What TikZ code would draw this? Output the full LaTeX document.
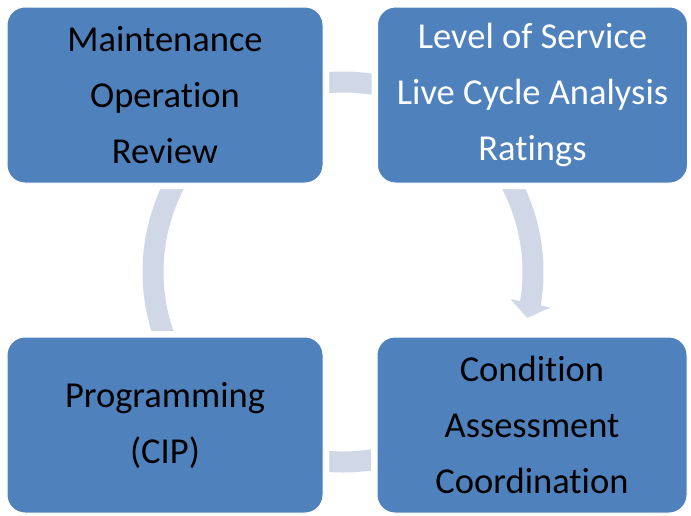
\documentclass[tikz,border=0pt]{standalone}
\usepackage{fontspec}
\setmainfont{Carlito}[Ligatures=NoCommon]
\usetikzlibrary{arrows.meta,bending,backgrounds}

\definecolor{boxblue}{RGB}{79,129,189}
\definecolor{ringgray}{RGB}{208,216,232}

\tikzset{
  stage/.style={rounded corners=18pt, fill=boxblue, draw=white, line width=1pt,
    preaction={draw=white, line width=12pt},
    minimum width=316pt, minimum height=176pt, align=center,
    font=\fontsize{36.5}{56}\selectfont, text=black},
  ring/.style={draw=ringgray, line width=21pt},
}

\begin{document}
\begin{tikzpicture}[x=1pt,y=-1pt]
\useasboundingbox (0,0) rectangle (691,515);
%top row:
\node[stage] (maint) at (165,95) {Maintenance\\Operation\\Review};
\node[stage, minimum width=310pt, text=white] (service) at (532.5,95) {Level of Service\\Live Cycle Analysis\\Ratings};
%bottom row:
\node[stage] (prog) at (165,425) {Programming\\(CIP)};
\node[stage, minimum width=310pt] (cond) at (532,425) {Condition\\Assessment\\Coordination};
%cycle behind the boxes
\coordinate (hub) at (343,272);
\begin{scope}[on background layer]
\draw[ring] ([shift={(255:190)}]hub) arc[start angle=255, end angle=285, radius=190];
\draw[ring, -{Triangle[width=40pt,length=15pt]}] ([shift={(-40:190)}]hub) arc[start angle=-40, end angle=14, radius=190];
\draw[ring] ([shift={(70:190)}]hub) arc[start angle=70, end angle=110, radius=190];
\draw[ring] ([shift={(150:190)}]hub) arc[start angle=150, end angle=215, radius=190];
\end{scope}
\end{tikzpicture}
\end{document}
